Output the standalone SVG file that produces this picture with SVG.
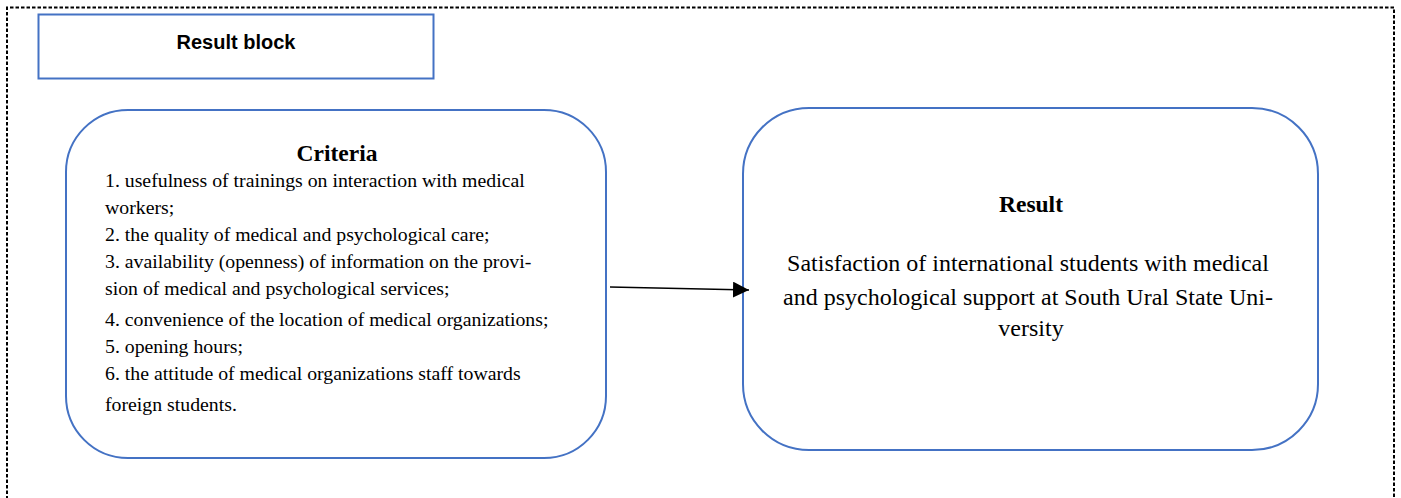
<svg xmlns="http://www.w3.org/2000/svg" width="1401" height="498" viewBox="0 0 1401 498">
  <style>
    .frame { fill: none; stroke: #000; stroke-width: 2; stroke-dasharray: 3.5 2; }
    .box { fill: #fff; stroke: #4472C4; stroke-width: 2; }
    .title { font-family: "Liberation Sans", Arial, sans-serif; font-weight: bold; font-size: 20px; fill: #000; }
    .head { font-family: "Liberation Serif", "Times New Roman", serif; font-weight: bold; font-size: 23.5px; fill: #000; }
    .body { font-family: "Liberation Serif", "Times New Roman", serif; font-size: 19.8px; fill: #000; }
    .big { font-family: "Liberation Serif", "Times New Roman", serif; font-size: 24px; fill: #000; }
    .conn { stroke: #000; stroke-width: 1.3; fill: none; }
  </style>
  <defs>
    <marker id="arrow" viewBox="0 0 10 10" refX="10" refY="5" markerWidth="16" markerHeight="16" markerUnits="userSpaceOnUse" orient="auto">
      <path d="M0,0 L10,5 L0,10 z" fill="#000"/>
    </marker>
  </defs>
  <rect width="1401" height="498" fill="#fff"/>

  <!-- outer dashed frame, open at the bottom -->
  <path class="frame" d="M7,505 L7,7.5 L1394,7.5 L1394,505"/>

  <g id="result-block">
    <rect class="box" x="38.5" y="14.5" width="395" height="64"/>
    <text class="title" x="236" y="49" text-anchor="middle">Result block</text>
  </g>

  <g id="criteria">
    <rect class="box" x="66" y="110" width="540" height="348" rx="62" ry="62"/>
    <text class="head" x="337" y="161" text-anchor="middle">Criteria</text>
    <text class="body" x="105">
      <tspan x="105" y="187">1. usefulness of trainings on interaction with medical</tspan>
      <tspan x="105" y="214">workers;</tspan>
      <tspan x="105" y="241">2. the quality of medical and psychological care;</tspan>
      <tspan x="105" y="268">3. availability (openness) of information on the provi-</tspan>
      <tspan x="105" y="295">sion of medical and psychological services;</tspan>
      <tspan x="105" y="326">4. convenience of the location of medical organizations;</tspan>
      <tspan x="105" y="353">5. opening hours;</tspan>
      <tspan x="105" y="380">6. the attitude of medical organizations staff towards</tspan>
      <tspan x="105" y="411">foreign students.</tspan>
    </text>
  </g>

  <g id="result">
    <rect class="box" x="743" y="108" width="575" height="342" rx="66" ry="66"/>
    <text class="head" x="1031" y="212" text-anchor="middle">Result</text>
    <text class="big" text-anchor="middle">
      <tspan x="1031" y="271">Satisfaction of international students with medical</tspan>
      <tspan x="1031" y="305">and psychological support at South Ural State Uni-</tspan>
      <tspan x="1031" y="336">versity</tspan>
    </text>
  </g>

  <g id="connectors">
    <line class="conn" x1="610" y1="287" x2="749" y2="290" marker-end="url(#arrow)"/>
  </g>
</svg>
